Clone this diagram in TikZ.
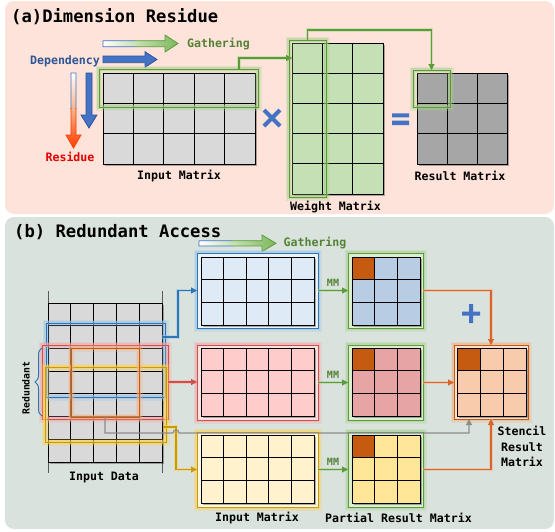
\documentclass[tikz,border=0pt]{standalone}
\usepackage{fontspec}
\setmonofont{DejaVu Sans Mono}
\usetikzlibrary{arrows.meta, decorations.pathreplacing}
\definecolor{panelA}{HTML}{FDE3D9}
\definecolor{panelB}{HTML}{D9E2DD}
\definecolor{cgray}{HTML}{D9D9D9}
\definecolor{cdark}{HTML}{A6A6A6}
\definecolor{cgreen}{HTML}{C5E0B4}
\definecolor{gcol}{HTML}{5B9B3A}
\definecolor{gglow}{HTML}{A9D18E}
\definecolor{garrow}{HTML}{7DB85A}
\definecolor{bcol}{HTML}{2E75B6}
\definecolor{bglow}{HTML}{9DC3E6}
\definecolor{rcol}{HTML}{D0504C}
\definecolor{rglow}{HTML}{F4A6A6}
\definecolor{ycol}{HTML}{C99A06}
\definecolor{yglow}{HTML}{FFD24D}
\definecolor{ocol}{HTML}{C55A11}
\definecolor{ocon}{HTML}{D9652B}
\definecolor{oglow}{HTML}{F4B183}
\definecolor{depblue}{HTML}{2F5597}
\definecolor{symblue}{HTML}{4472C4}
\definecolor{gtext}{HTML}{548235}
\definecolor{resred}{HTML}{E00000}
\definecolor{cblue}{HTML}{DEEBF7}
\definecolor{cpink}{HTML}{FFCCCC}
\definecolor{cyell}{HTML}{FFF2CC}
\definecolor{pblue}{HTML}{B8CCE4}
\definecolor{ppink}{HTML}{E6A4A4}
\definecolor{pyell}{HTML}{FFE699}
\definecolor{speach}{HTML}{F8CBAD}
\definecolor{grayl}{HTML}{8C8C8C}
\definecolor{redarrow}{HTML}{FF3C00}
\newcommand{\mgrid}[8]{%
  \fill[black, opacity=0.3] ({#2+2},{#3+2}) rectangle ({#2+#4*#6+2},{#3+#5*#7+2});
  \foreach \ii in {1,...,#4}{\foreach \jj in {1,...,#5}{%
    \filldraw[fill=#8, draw=black, line width=0.9pt] ({#2+(\ii-1)*#6},{#3+(\jj-1)*#7}) rectangle ++(#6,#7);}}%
  \node[inner sep=0, outer sep=0, minimum width={#4*#6*1pt}, minimum height={#5*#7*1pt}, anchor=north west] (#1) at (#2,#3) {};}
\tikzset{
  glowbox/.style 2 args={draw=#1, line width=1pt, inner sep=0, outer sep=0, anchor=north west,
     preaction={draw=#2, line width=7pt, opacity=0.25},
     preaction={draw=#2, line width=3.5pt, opacity=0.5}},
  lbl/.style={font=\fontsize{11.6}{15.5}\selectfont\ttfamily\bfseries, inner sep=0},
  ttl/.style={font=\fontsize{17.2}{20}\selectfont\ttfamily\bfseries, inner sep=0, anchor=west},
  conn/.style 2 args={draw=#1, line width=1.1pt, -{Triangle[length=6pt,width=6pt]},
     preaction={draw=#2, line width=3.5pt, opacity=0.45, arrows=-}},
}
\begin{document}
\begin{tikzpicture}[x=1pt, y=-1pt]
\useasboundingbox (0,0) rectangle (555,531);
% panels
\fill[panelA, rounded corners=9pt] (5,1) rectangle (554,214);
\fill[panelB, rounded corners=9pt] (5,217) rectangle (554,529);
\node[ttl] (tA) at (11,17) {(a)Dimension Residue};
\node[ttl] (tB) at (14,232) {(b) Redundant Access};

% ---------- panel (a) ----------
\shade[left color=white, right color=garrow] (103,40.7) -- (165,40.7) -- (165,35) -- (178,43.5) -- (165,52) -- (165,46.7) -- (103,46.7) -- cycle;
\begin{scope}\clip (95,30) rectangle (135,60);
\draw[symblue, line width=0.8pt] (103,40.7) -- (165,40.7) -- (165,35) -- (178,43.5) -- (165,52) -- (165,46.7) -- (103,46.7) -- cycle;
\end{scope}
\begin{scope}\clip (135,30) rectangle (185,60);
\draw[gcol, line width=0.8pt] (103,40.7) -- (165,40.7) -- (165,35) -- (178,43.5) -- (165,52) -- (165,46.7) -- (103,46.7) -- cycle;
\end{scope}
\node[lbl, text=gtext] (gathA) at (218.5,43.5) {Gathering};
\filldraw[fill=symblue, draw=depblue, line width=0.8pt] (103,56) -- (145,56) -- (145,51.7) -- (157,59.5) -- (145,67.3) -- (145,62.7) -- (103,62.7) -- cycle;
\node[lbl, text=depblue] (dep) at (65,61) {Dependency};
\filldraw[fill=symblue, draw=depblue, line width=0.8pt] (86,73) -- (92,73) -- (92,115) -- (97,115) -- (89,128) -- (81,115) -- (86,115) -- cycle;
\shade[top color=white, bottom color=redarrow, middle color=oglow] (71,73) -- (76,73) -- (76,135) -- (81,135) -- (73.5,148) -- (66,135) -- (71,135) -- cycle;
\begin{scope}\clip (60,70) rectangle (90,108);
\draw[symblue, line width=0.8pt] (71,73) -- (76,73) -- (76,135) -- (81,135) -- (73.5,148) -- (66,135) -- (71,135) -- cycle;
\end{scope}
\begin{scope}\clip (60,108) rectangle (90,152);
\draw[redarrow, line width=0.8pt] (71,73) -- (76,73) -- (76,135) -- (81,135) -- (73.5,148) -- (66,135) -- (71,135) -- cycle;
\end{scope}
\node[lbl, text=resred] (res) at (70,157) {Residue};

\mgrid{inA}{103}{73}{5}{3}{30.4}{30.33}{cgray}
\mgrid{wM}{292}{43}{3}{5}{30.33}{30.2}{cgreen}
\mgrid{resM}{417}{73}{3}{3}{30}{30.33}{cdark}
\node[glowbox={gcol}{gglow}, minimum width=159pt, minimum height=38pt] (hlA) at (99,69) {};
\node[glowbox={gcol}{gglow}, minimum width=37pt, minimum height=157pt] (hlW) at (289,40) {};
\node[glowbox={gcol}{gglow}, minimum width=37pt, minimum height=37pt] (hlR) at (413,70) {};
\draw[conn={gcol}{gglow}] ([xshift=-19pt]hlA.north east) |- ([yshift=-15pt]wM.north west);
\draw[conn={gcol}{gglow}] (hlW.north) -- ++(0,-10) -| (hlR.north);
\draw[symblue, line width=4pt] (264,110) -- (280,126) (264,126) -- (280,110);
\fill[symblue] (392,113.3) rectangle (409,117.3) (392,120.7) rectangle (409,125);
\node[lbl] (lInA) at (179,176) {Input Matrix};
\node[lbl] (lW) at (335.5,207) {Weight Matrix};
\node[lbl] (lR) at (460,176) {Result Matrix};

% ---------- panel (b) ----------
\shade[left color=white, right color=garrow] (199,240.7) -- (262,240.7) -- (262,235) -- (276,243.3) -- (262,251.5) -- (262,245.9) -- (199,245.9) -- cycle;
\begin{scope}\clip (190,230) rectangle (232,260);
\draw[symblue, line width=0.8pt] (199,240.7) -- (262,240.7) -- (262,235) -- (276,243.3) -- (262,251.5) -- (262,245.9) -- (199,245.9) -- cycle;
\end{scope}
\begin{scope}\clip (232,230) rectangle (285,260);
\draw[gcol, line width=0.8pt] (199,240.7) -- (262,240.7) -- (262,235) -- (276,243.3) -- (262,251.5) -- (262,245.9) -- (199,245.9) -- cycle;
\end{scope}
\node[lbl, text=gtext] (gathB) at (315,243) {Gathering};

\draw[black!65, line width=0.9pt] (48,291) -- (48,473) (162,291) -- (162,473);
\mgrid{inD}{48}{303}{5}{7}{22.8}{22.71}{cgray}
\node[glowbox={bcol}{bglow}, minimum width=119pt, minimum height=74pt] (wBlue) at (46,323) {};
\node[glowbox={rcol}{rglow}, minimum width=126pt, minimum height=74pt] (wRed) at (42,345) {};
\node[glowbox={ycol}{yglow}, minimum width=121pt, minimum height=75pt] (wYel) at (45,367) {};
\node[glowbox={ocol}{oglow}, minimum width=68pt, minimum height=69pt] (wOr) at (71,348) {};
\draw[bcol, line width=1pt, decorate, decoration={brace, amplitude=7pt}] (42,416) -- (42,348);
\node[lbl, font=\fontsize{9.8}{12}\selectfont\ttfamily\bfseries, rotate=90] (lRed) at (26,388) {Redundant};
\node[lbl] (lInD) at (104,477) {Input Data};

\node[glowbox={bcol}{bglow}, fill=cblue!60!white, minimum width=121pt, minimum height=75pt] (mB) at (197,253) {};
\node[glowbox={rcol}{rglow}, fill=cpink!60!white, minimum width=121pt, minimum height=75pt] (mR) at (197,345) {};
\node[glowbox={ycol}{yglow}, fill=cyell!60!white, minimum width=121pt, minimum height=75pt] (mY) at (197,432) {};
\mgrid{mBg}{201}{257}{5}{3}{22.6}{22.67}{cblue}
\mgrid{mRg}{201}{348}{5}{3}{22.6}{22.67}{cpink}
\mgrid{mYg}{201}{435}{5}{3}{22.6}{22.67}{cyell}

\node[glowbox={gcol}{gglow}, fill=gglow!40!white, minimum width=75pt, minimum height=75pt] (pB) at (348,253) {};
\node[glowbox={gcol}{gglow}, fill=gglow!40!white, minimum width=75pt, minimum height=75pt] (pR) at (348,345) {};
\node[glowbox={gcol}{gglow}, fill=gglow!40!white, minimum width=75pt, minimum height=75pt] (pY) at (348,432) {};
\mgrid{pBg}{352}{257}{3}{3}{22.67}{22.67}{pblue}
\mgrid{pRg}{352}{348}{3}{3}{22.67}{22.67}{ppink}
\mgrid{pYg}{352}{435}{3}{3}{22.67}{22.67}{pyell}
\filldraw[fill=ocol, line width=0.9pt] (352,257) rectangle ++(22.67,22.67);
\filldraw[fill=ocol, line width=0.9pt] (352,348) rectangle ++(22.67,22.67);
\filldraw[fill=ocol, line width=0.9pt] (352,435) rectangle ++(22.67,22.67);

\node[glowbox={ocol}{oglow}, fill=oglow!40!white, minimum width=74pt, minimum height=74pt] (sR) at (454,345) {};
\mgrid{sRg}{457}{348}{3}{3}{23}{22.67}{speach}
\filldraw[fill=ocol, line width=0.9pt] (457,348) rectangle ++(23,22.67);

\coordinate (bs) at (162,337);
\coordinate (ys) at (163,427);
\draw[conn={bcol}{bglow}] (bs) -- ++(16,0) |- (mB.west);
\draw[conn={rcol}{rglow}] (wRed.east) -- (wRed.east -| mR.west);
\draw[conn={ycol}{yglow}] (ys) -- ++(13,0) |- (mY.west);
\draw[conn={gcol}{gglow}] (mB.east) -- (pB.west) node[midway, above=3pt, lbl, font=\fontsize{10}{12}\selectfont\ttfamily\bfseries, text=gtext] (mm1) {MM};
\draw[conn={gcol}{gglow}] (mR.east) -- (pR.west) node[midway, above=3pt, lbl, font=\fontsize{10}{12}\selectfont\ttfamily\bfseries, text=gtext] (mm2) {MM};
\draw[conn={gcol}{gglow}] (mY.east) -- (pY.west) node[midway, above=3pt, lbl, font=\fontsize{10}{12}\selectfont\ttfamily\bfseries, text=gtext] (mm3) {MM};
\draw[conn={ocon}{oglow}] (pB.east) -| (sR.north);
\draw[conn={ocon}{oglow}] (pR.east) -- (pR.east -| sR.west);
\draw[conn={ocon}{oglow}] (pY.east) -| (sR.south);
\coordinate (g1) at (105,433);
\coordinate (hopL) at (173,433);
\coordinate (hopR) at (179,433);
\coordinate (g2) at (469,433);
\draw[grayl, line width=1.1pt, -{Triangle[length=6pt,width=6pt]}] (wOr.south) -- (g1) -- (hopL) .. controls (173,429) and (179,429) .. (hopR) -- (g2) -- ([xshift=-22pt]sR.south);
\fill[symblue] (462,311.5) rectangle (480,315.5) (469,304) rectangle (473,323);
\node[lbl, align=center] (lS) at (522,446.5) {Stencil\\Result\\Matrix};
\node[lbl] (lIM) at (257,518) {Input Matrix};
\node[lbl] (lP) at (398.5,518) {Partial Result Matrix};
\end{tikzpicture}
\end{document}
